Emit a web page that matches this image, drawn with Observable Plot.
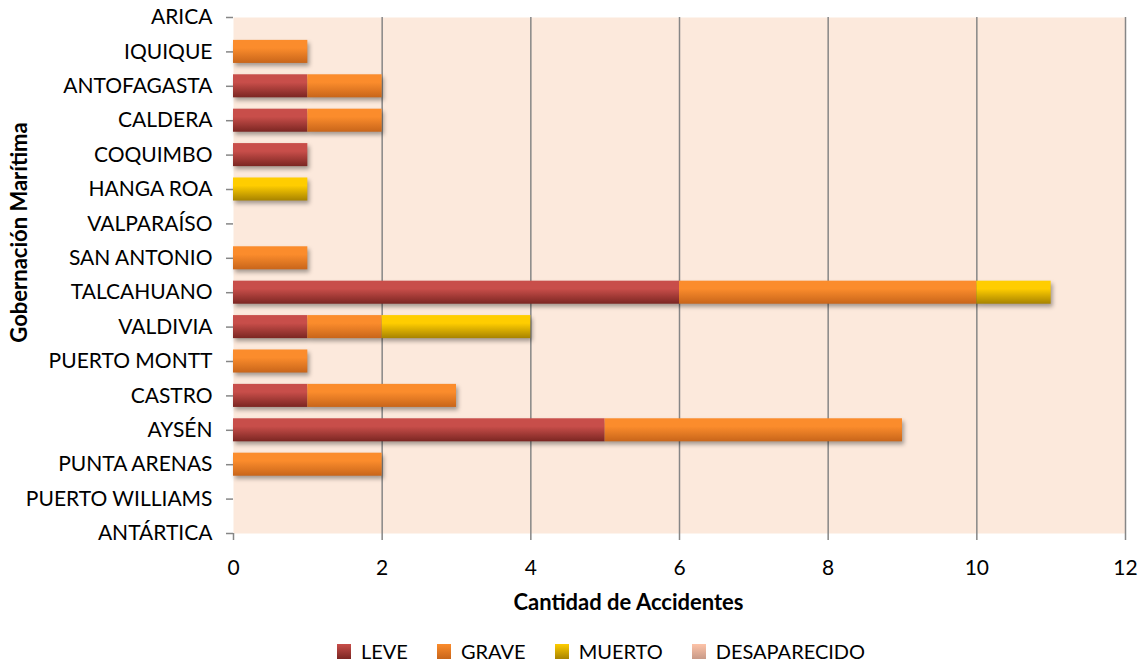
<!DOCTYPE html>
<html>
<head>
<meta charset="utf-8">
<script src="https://cdn.jsdelivr.net/npm/d3@7"></script>
<script src="https://cdn.jsdelivr.net/npm/@observablehq/plot@0.6"></script>
<style>
  html, body { margin: 0; padding: 0; background: #fff; }
  body { width: 1139px; height: 661px; position: relative; font-family: Lato, "Open Sans", sans-serif; }
  g[aria-label="bar"] { filter: drop-shadow(2px 3px 2px rgba(0,0,0,0.35)); }
  #legend { position: absolute; left: 337px; top: 639px; display: flex; align-items: center; font-size: 20px; color: #000; }
  #legend .item { display: flex; align-items: center; margin-right: 29px; }
  #legend .sw { width: 14px; height: 15px; margin-right: 10px; }
</style>
</head>
<body>
<div id="chart"></div>
<div id="legend"></div>
<script>
const categories = ["ARICA","IQUIQUE","ANTOFAGASTA","CALDERA","COQUIMBO","HANGA ROA","VALPARAÍSO","SAN ANTONIO","TALCAHUANO","VALDIVIA","PUERTO MONTT","CASTRO","AYSÉN","PUNTA ARENAS","PUERTO WILLIAMS","ANTÁRTICA"];
const types = ["LEVE","GRAVE","MUERTO","DESAPARECIDO"];
const leve =         [0,0,1,1,1,0,0,0,6,1,0,1,5,0,0,0];
const grave =        [0,1,1,1,0,0,0,1,4,1,1,2,4,2,0,0];
const muerto =       [0,0,0,0,0,1,0,0,1,2,0,0,0,0,0,0];
const desaparecido = [0,0,0,0,0,0,0,0,0,0,0,0,0,0,0,0];
const xTicks = [0,2,4,6,8,10,12];

const series = [leve, grave, muerto, desaparecido];
const gradients = [
  ["#c84e4a", "#7b2622"],
  ["#fb8c2c", "#c8651a"],
  ["#ffcd00", "#a78300"],
  ["#fdc3a8", "#c89a88"]
];
const data = [];
categories.forEach((c, i) => types.forEach((t, k) => data.push({gob: c, type: t, n: series[k][i]})));

const W = 1139, H = 620, mT = 17, mB = 87, mL = 233, mR = 14;
const inner = H - mT - mB;
const step = inner / (categories.length - 1);

const chart = Plot.plot({
  width: W, height: H,
  marginLeft: mL, marginRight: mR, marginTop: mT, marginBottom: mB,
  style: {fontFamily: "Lato, 'Open Sans', sans-serif", fontSize: "21px", color: "#000", background: "transparent", overflow: "visible"},
  x: {domain: [0, 12], label: null},
  y: {type: "band", domain: categories, range: [mT - step/2, H - mB + step/2], paddingInner: 0.33, paddingOuter: 0.165, round: false, label: null},
  color: {domain: types, range: types.map((t, k) => `url(#grad${k})`)},
  marks: [
    Plot.frame({fill: "#fce9dc", stroke: null}),
    Plot.gridX(xTicks.slice(1), {stroke: "#868686", strokeOpacity: 1, strokeWidth: 1.5}),
    Plot.barX(data, {y: "gob", x: "n", fill: "type", order: null}),
    Plot.axisX({ticks: xTicks, tickSize: 7, tickPadding: 20, stroke: "#868686", fill: "#000", fontSize: 21, line: true, label: null, strokeWidth: 1.5}),
    Plot.axisY({tickSize: 7, tickPadding: 14, stroke: "#868686", fill: "#000", fontSize: 21, line: true, label: null, strokeWidth: 1.5}),
    Plot.text(["Cantidad de Accidentes"], {frameAnchor: "bottom", dx: -51, dy: 76, fontWeight: "bold", fontSize: 22, fill: "#000"}),
    Plot.text(["Gobernación Marítima"], {frameAnchor: "left", textAnchor: "middle", dx: -214, dy: -43, rotate: -90, fontWeight: "bold", fontSize: 22, fill: "#000"})
  ]
});

const defs = d3.select(chart).insert("defs", ":first-child");
gradients.forEach((g, k) => {
  const lg = defs.append("linearGradient").attr("id", `grad${k}`).attr("x1", 0).attr("y1", 0).attr("x2", 0).attr("y2", 1);
  lg.append("stop").attr("offset", "0%").attr("stop-color", g[0]);
  lg.append("stop").attr("offset", "35%").attr("stop-color", g[0]);
  lg.append("stop").attr("offset", "100%").attr("stop-color", g[1]);
});
document.getElementById("chart").appendChild(chart);

const legend = d3.select("#legend");
types.forEach((t, k) => {
  const it = legend.append("div").attr("class", "item");
  it.append("div").attr("class", "sw").style("background", `linear-gradient(${gradients[k][0]}, ${gradients[k][1]})`);
  it.append("span").text(t);
});
</script>
</body>
</html>
